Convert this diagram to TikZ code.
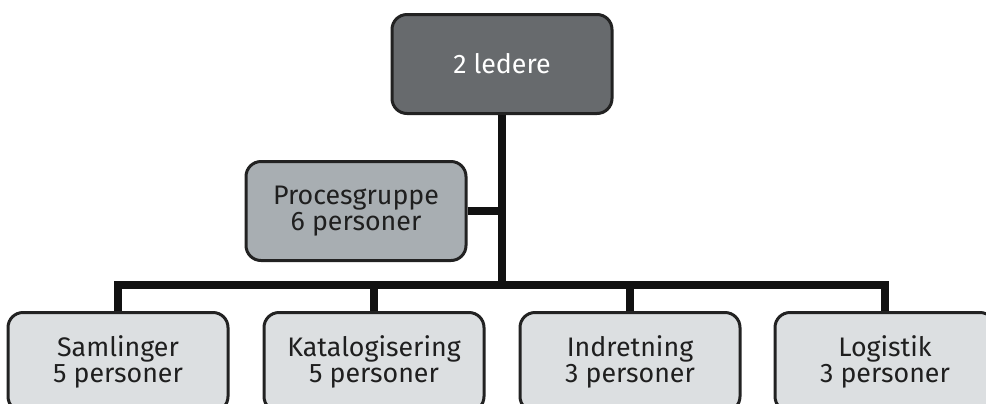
\documentclass[tikz,border=0pt]{standalone}
\usepackage{fontspec}
\setmainfont{Fira Sans}
\definecolor{bossgray}{HTML}{676A6D}
\definecolor{procgray}{HTML}{A8AEB2}
\definecolor{teamgray}{HTML}{DCDFE1}
\definecolor{edgegray}{HTML}{222222}
\definecolor{linegray}{HTML}{111111}
\tikzset{
	unitbox/.style={draw=edgegray, line width=1.5pt, rounded corners=7.5pt, minimum width=110pt, minimum height=49.5pt, inner sep=0pt, align=center, font=\fontsize{13.4}{13}\selectfont},
	conn/.style={draw=linegray, line width=4pt}
}
\begin{document}
\begin{tikzpicture}[x=0.5pt, y=-0.5pt]
	\useasboundingbox (0,0) rectangle (986,403);
	\clip (0,0) rectangle (986,403);
	%Ledere
	\node[unitbox, fill=bossgray, text=white] (ledere) at (502,64) {2 ledere};
	%Procesgruppe
	\node[unitbox, fill=procgray, text=black!88] (proces) at (356,211) {Procesgruppe\\6 personer};
	%Teams
	\node[unitbox, fill=teamgray, text=black!88] (samlinger) at (118,362) {Samlinger\\5 personer};
	\node[unitbox, fill=teamgray, text=black!88] (katalog) at (374,362) {Katalogisering\\5 personer};
	\node[unitbox, fill=teamgray, text=black!88] (indretning) at (630,362) {Indretning\\3 personer};
	\node[unitbox, fill=teamgray, text=black!88] (logistik) at (885,362) {Logistik\\3 personer};
	
	%Trunk and bus
	\coordinate (bus) at (502,285);
	\draw[conn] (ledere.south) -- (bus);
	\draw[conn] (proces.east) -- (proces.east -| bus);
	\draw[conn] (samlinger.north) |- (bus) -| (logistik.north);
	\draw[conn] (katalog.north) -- (katalog.north |- bus);
	\draw[conn] (indretning.north) -- (indretning.north |- bus);
\end{tikzpicture}
\end{document}
